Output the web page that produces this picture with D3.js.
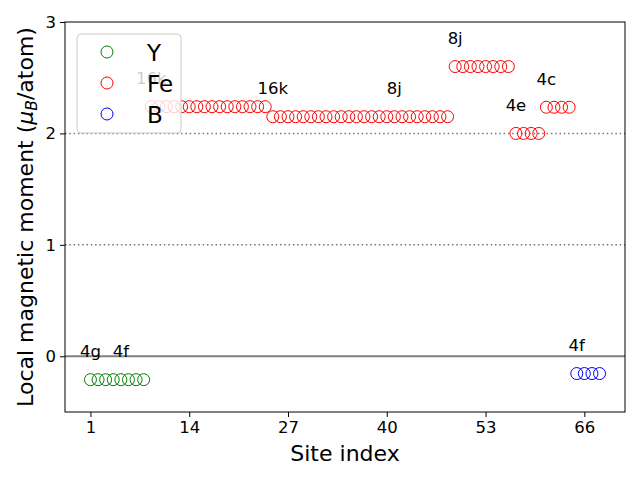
<!DOCTYPE html>
<html><head><meta charset="utf-8">
<script src="https://cdn.jsdelivr.net/npm/d3@7"></script>
<style>body{margin:0;background:#fff}svg{font-family:"DejaVu Sans",sans-serif}</style>
</head><body><svg id="c" width="640" height="480"></svg>
<script>
// ---- data ----
const seriesNames = ["Y", "Fe", "B"];
const seriesColors = ["green", "red", "blue"];
const yMoments = [-0.21, -0.21, -0.21, -0.21, -0.21, -0.21, -0.21, -0.21];
const feMoments = [
  2.24, 2.24, 2.24, 2.24, 2.24, 2.24, 2.24, 2.24, 2.24, 2.24, 2.24, 2.24, 2.24, 2.24, 2.24, 2.24,
  2.15, 2.15, 2.15, 2.15, 2.15, 2.15, 2.15, 2.15, 2.15, 2.15, 2.15, 2.15, 2.15, 2.15, 2.15, 2.15,
  2.15, 2.15, 2.15, 2.15, 2.15, 2.15, 2.15, 2.15,
  2.6, 2.6, 2.6, 2.6, 2.6, 2.6, 2.6, 2.6,
  2.0, 2.0, 2.0, 2.0,
  2.235, 2.235, 2.235, 2.235
];
const bMoments = [-0.155, -0.155, -0.155, -0.155];
const siteLabels = ["4g", "4f", "16k", "16k", "8j", "8j", "4e", "4c", "4f"];
const siteLabelIndex = [1, 5, 9, 25, 41, 49, 57, 61, 65];
const siteLabelValue = [-0.21, -0.21, 2.24, 2.15, 2.15, 2.6, 2.0, 2.235, -0.155];
const xTicks = [1, 14, 27, 40, 53, 66];
const yTicks = [0, 1, 2, 3];

// ---- layout ----
const svg = d3.select("#c");
const L = 65, R = 625, T = 22, B = 412;
const x = d3.scaleLinear().domain([-2.35, 71.35]).range([L, R]);
const y = d3.scaleLinear().domain([-0.5, 3]).range([B, T]);

// reference lines
svg.append("line").attr("x1", L).attr("x2", R).attr("y1", y(0)).attr("y2", y(0))
  .attr("stroke", "gray").attr("stroke-width", 2);
[1, 2].forEach(v => svg.append("line").attr("x1", L).attr("x2", R).attr("y1", y(v)).attr("y2", y(v))
  .attr("stroke", "#777").attr("stroke-width", 1.5).attr("stroke-dasharray", "1.5,2.8"));

// points
const all = [yMoments, feMoments, bMoments];
let idx = 1;
all.forEach((arr, si) => {
  const pts = arr.map(v => ({ i: idx++, v }));
  svg.append("g").selectAll("circle").data(pts).join("circle")
    .attr("cx", d => x(d.i)).attr("cy", d => y(d.v)).attr("r", 6)
    .attr("fill", "none").attr("stroke", seriesColors[si]).attr("stroke-width", 1);
});

// site labels
svg.append("g").selectAll("text").data(siteLabels).join("text")
  .attr("x", (d, i) => x(siteLabelIndex[i]))
  .attr("y", (d, i) => y(siteLabelValue[i] + 0.2))
  .attr("text-anchor", "middle").attr("font-size", 16.5).attr("fill", "#000").text(d => d);

// axes
const xa = svg.append("g").attr("transform", `translate(0,${B})`)
  .call(d3.axisBottom(x).tickValues(xTicks).tickFormat(d3.format("d")).tickSize(5).tickPadding(4).tickSizeOuter(0));
const ya = svg.append("g").attr("transform", `translate(${L},0)`)
  .call(d3.axisLeft(y).tickValues(yTicks).tickFormat(d3.format("d")).tickSize(5).tickPadding(4).tickSizeOuter(0));
[xa, ya].forEach(a => {
  a.select(".domain").remove();
  a.selectAll("text").attr("font-size", 16.5).attr("font-family", "DejaVu Sans").attr("fill", "#000");
  a.selectAll("line").attr("stroke", "#000");
});
svg.append("rect").attr("x", L).attr("y", T).attr("width", R - L).attr("height", B - T)
  .attr("fill", "none").attr("stroke", "#000").attr("stroke-width", 1);

// axis titles
svg.append("text").attr("x", (L + R) / 2).attr("y", 461).attr("text-anchor", "middle")
  .attr("font-size", 22).text("Site index");
const yl = svg.append("text").attr("transform", `translate(33,${(T + B) / 2}) rotate(-90)`)
  .attr("text-anchor", "middle").attr("font-size", 22);
yl.append("tspan").text("Local magnetic moment (");
yl.append("tspan").attr("font-style", "italic").text("μ");
yl.append("tspan").attr("font-size", 15.5).attr("font-style", "italic").attr("dy", 4).text("B");
yl.append("tspan").attr("dy", -4).text("/atom)");

// legend
const lg = svg.append("g");
lg.append("rect").attr("x", 77).attr("y", 34).attr("width", 104).attr("height", 99)
  .attr("rx", 4).attr("fill", "rgba(255,255,255,0.8)").attr("stroke", "#ccc").attr("stroke-width", 1);
seriesNames.forEach((n, i) => {
  const cy = 52 + i * 31;
  lg.append("circle").attr("cx", 107).attr("cy", cy).attr("r", 6)
    .attr("fill", "none").attr("stroke", seriesColors[i]).attr("stroke-width", 1);
  lg.append("text").attr("x", 147).attr("y", cy + 8.5).attr("font-size", 23).text(n);
});
</script></body></html>
